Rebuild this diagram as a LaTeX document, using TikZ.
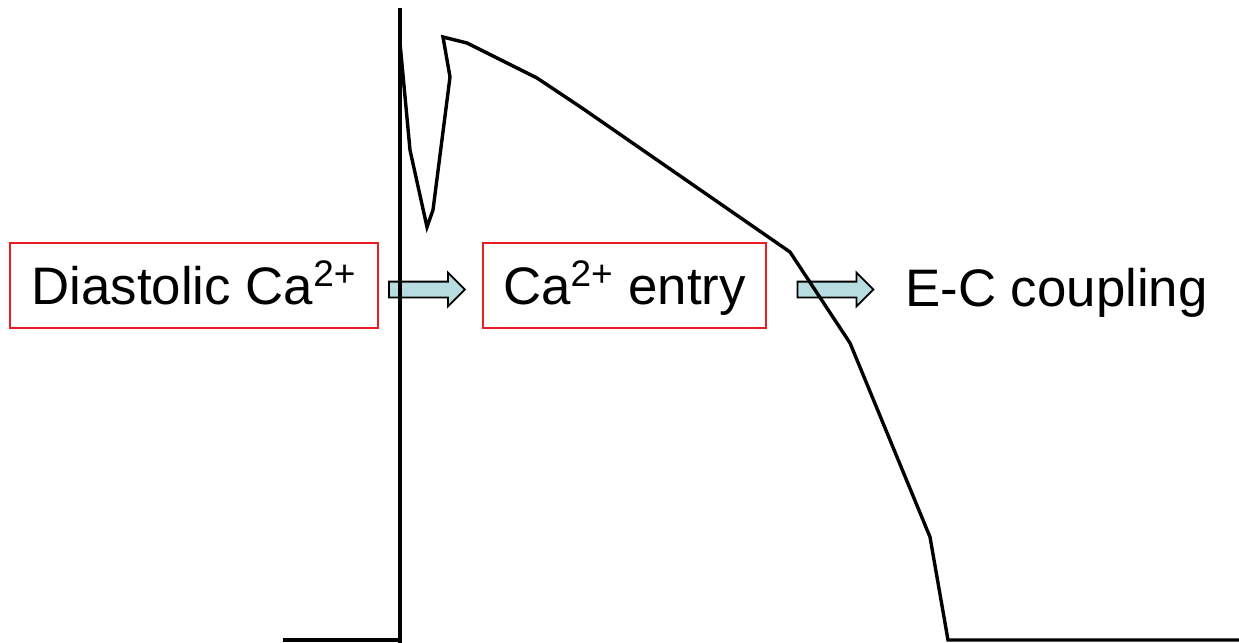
\documentclass[tikz,border=0pt]{standalone}
\usepackage{fontspec}
\setmainfont{Liberation Sans}
\usepackage{tikz}
\usetikzlibrary{shapes,arrows,positioning}
\definecolor{arrowCyan}{RGB}{183,221,224}
\definecolor{boxRed}{RGB}{237,28,36}

\begin{document}
\begin{tikzpicture}[x=0.5pt, y=-0.5pt,
    bigtext/.style={font=\fontsize{26.4}{30}\selectfont},
    redbox/.style={rectangle, draw=boxRed, line width=0.7pt, inner sep=0pt, minimum height=42.5pt, text height=19pt, text depth=0pt, bigtext},
    blockarr/.style={single arrow, draw, line width=0.9pt, fill=arrowCyan, inner xsep=0pt, inner ysep=3.5pt, minimum height=38pt, single arrow head extend=4.5pt, single arrow head indent=0pt},
    trace/.style={line width=1.7pt, line join=miter}]
                    \useasboundingbox (0,0) rectangle (1239,643);
                    \node[redbox, minimum width=184pt] (dia) at (194,285.5) {Diastolic Ca\textsuperscript{2+}};
                    \node[redbox, minimum width=141.5pt] (entry) at (624.5,285.5) {Ca\textsuperscript{2+} entry};
                    \node[bigtext, anchor=base west, inner sep=0pt] (ec) at (905,306) {E-C coupling};
                    
                    \node[blockarr] (a1) at (423,289.5) {};
                    \node[blockarr] (a2) at (831.5,289.5) {};
                    
                    % action potential trace
                    \draw[trace] (400,8) -- (400,643);
                    \draw[trace] (283,640) -- (400,640);
                    \draw[trace] (400,43) -- (410,150) -- (427,227) -- (433,210) -- (450,77) -- (443,37) -- (467,43) -- (537,78) -- (582,108) -- (790,252) -- (850,343) -- (930,537) -- (948,640) -- (1239,640);
                \end{tikzpicture}
\end{document}
